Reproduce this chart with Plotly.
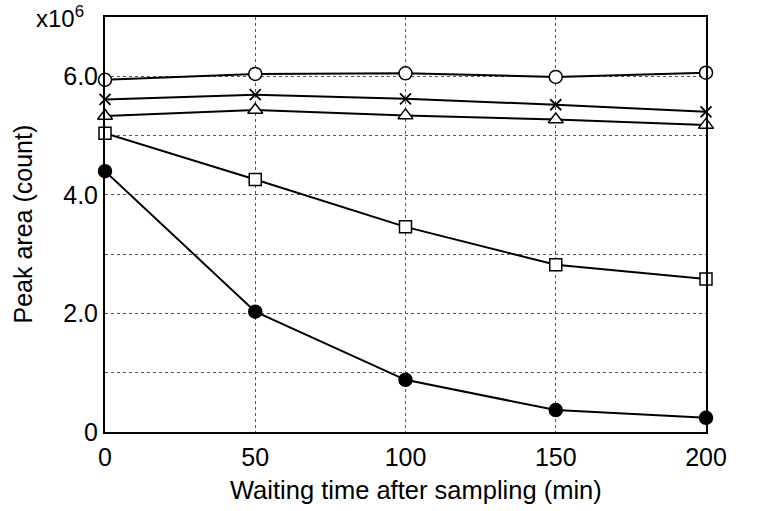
import plotly.graph_objects as go

time_min = [0, 50, 100, 150, 200]
s_circle = [5.94, 6.04, 6.05, 5.99, 6.06]
s_cross = [5.61, 5.69, 5.62, 5.52, 5.40]
s_triangle = [5.33, 5.43, 5.34, 5.27, 5.18]
s_square = [5.04, 4.26, 3.46, 2.82, 2.58]
s_filled = [4.40, 2.03, 0.88, 0.37, 0.24]

y_tickvals = [0, 2, 4, 6]
y_ticktext = ["0", "2.0", "4.0", "6.0"]
x_tickvals = [0, 50, 100, 150, 200]

fig = go.Figure()

def add(y, symbol, fill, size, lw=1.5):
    fig.add_trace(go.Scatter(
        x=time_min, y=y, mode="lines+markers",
        line=dict(color="black", width=2),
        marker=dict(symbol=symbol, size=size, color=fill,
                    line=dict(color="black", width=lw)),
        cliponaxis=False, showlegend=False))

add(s_circle, "circle", "white", 13)
add(s_cross, "x-thin", "black", 11, 1.8)
add(s_triangle, "triangle-up", "white", 13)
add(s_square, "square", "white", 12)
add(s_filled, "circle", "black", 13)

L, R, T, B = 105, 55, 17, 79
W, H = 761, 511
pw, ph = W - L - R, H - T - B

font = "Liberation Sans, Arial, sans-serif"
fig.update_layout(
    width=W, height=H,
    margin=dict(l=L, r=R, t=T, b=B),
    paper_bgcolor="white", plot_bgcolor="white",
    font=dict(family=font, size=25, color="black"),
)
fig.update_xaxes(
    range=[0, 200], tickvals=x_tickvals, showgrid=True,
    gridcolor="#555", griddash="dot", gridwidth=1,
    showline=True, linecolor="black", linewidth=2, mirror=True,
    ticks="", zeroline=False, tickfont=dict(size=25), ticklabelstandoff=2,
)
fig.update_yaxes(
    range=[0, 7], tickvals=y_tickvals, ticktext=y_ticktext, showgrid=True,
    gridcolor="#555", griddash="dot", gridwidth=1,
    minor=dict(dtick=1, showgrid=True, gridcolor="#555", griddash="dot", gridwidth=1),
    showline=True, linecolor="black", linewidth=2, mirror=True,
    ticks="", zeroline=False, tickfont=dict(size=25),
)
fig.add_annotation(text="Waiting time after sampling (min)", xref="paper", yref="paper",
                   x=(416 - L) / pw, y=(H - B - 490) / ph, xanchor="center", yanchor="middle",
                   showarrow=False, font=dict(size=25.5))
fig.add_annotation(text="Peak area (count)", xref="paper", yref="paper",
                   x=(22 - L) / pw, y=0.5, xanchor="center", yanchor="middle",
                   textangle=-90, showarrow=False, font=dict(size=25))
fig.add_annotation(text="x10<sup>6</sup>", xref="paper", yref="paper",
                   x=(86 - L) / pw, y=(H - B - 17) / ph, xanchor="right", yanchor="middle",
                   showarrow=False, font=dict(size=24))
fig.write_html(
    "out.html",
    config={"displayModeBar": False},
    post_script="document.body.style.margin='0';"
                "document.documentElement.style.overflow='hidden';"
                "document.body.style.overflow='hidden';",
)
